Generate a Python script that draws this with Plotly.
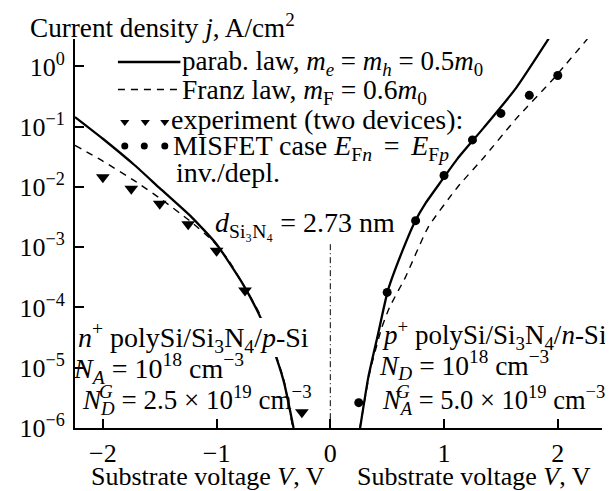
import numpy as np
import plotly.graph_objects as go

# ---------------- data ----------------
# left panel: n+ polySi/Si3N4/p-Si  (negative substrate voltage)
v_left_parab = [-2.245, -2.0, -1.72, -1.5, -1.22, -1.0, -0.766, -0.608, -0.509, -0.409, -0.323]
logj_left_parab = [-0.84, -1.20, -1.64, -2.02, -2.50, -2.95, -3.62, -4.19, -4.65, -5.23, -6.0]

v_left_franz = [-2.245, -2.01, -1.72, -1.49, -1.237, -1.037, -0.9, -0.766, -0.608, -0.509, -0.409, -0.33]
logj_left_franz = [-1.31, -1.56, -1.90, -2.20, -2.56, -2.89, -3.2, -3.62, -4.15, -4.62, -5.2, -6.0]

v_left_exp = [-2.0, -1.75, -1.5, -1.25, -1.0, -0.75, -0.25]
logj_left_exp = [-1.84, -2.03, -2.28, -2.62, -3.06, -3.72, -5.74]

# right panel: p+ polySi/Si3N4/n-Si  (positive substrate voltage)
v_right_parab = [0.262, 0.334, 0.42, 0.506, 0.634, 0.748, 0.834, 0.977, 1.119, 1.348, 1.633, 1.92]
logj_right_parab = [-6.0, -5.16, -4.44, -3.72, -3.06, -2.56, -2.28, -1.90, -1.53, -1.02, -0.36, 0.46]

v_right_franz = [0.26, 0.35, 0.45, 0.52, 0.66, 0.86, 1.12, 1.35, 1.633, 1.95, 2.26]
logj_right_franz = [-6.0, -5.05, -4.35, -4.0, -3.5, -2.67, -2.0, -1.51, -0.87, -0.23, 0.455]

v_right_misfet = [0.25, 0.5, 0.75, 1.0, 1.25, 1.5, 1.75, 2.0]
logj_right_misfet = [-5.58, -3.75, -2.56, -1.81, -1.22, -0.78, -0.48, -0.15]

# vertical separator at V = 0
v_sep = [0, 0]
logj_sep = [-2.95, -6.0]

x_ticks = [-2, -1, 0, 1, 2]
x_tick_text = ["−2", "−1", "0", "1", "2"]
y_tick_exp = [0, -1, -2, -3, -4, -5, -6]

# ---------------- layout geometry ----------------
BODY = 8                     # default page margin of the html body
W, H = 613 - BODY, 491 - BODY
ML, MR, MT, MB = 54, 11, 31, 63
PW, PH = W - ML - MR, H - MT - MB
FONT = "Liberation Serif"
FS = 28
FS_TICK = 26
SP = "\u2006"


def px(x, y):
    """position in page pixels -> paper coordinates"""
    return (x - BODY - ML) / PW, (H - MB - (y - BODY)) / PH


def j(vals):
    return [10.0 ** v for v in vals]


fig = go.Figure()

black = "black"

fig.add_trace(go.Scatter(x=v_left_parab, y=j(logj_left_parab), mode="lines",
                         line=dict(color=black, width=2.3, shape="spline", smoothing=0.5)))
fig.add_trace(go.Scatter(x=v_left_franz, y=j(logj_left_franz), mode="lines",
                         line=dict(color=black, width=1.4, dash="7px,6px", shape="spline", smoothing=0.5)))
fig.add_trace(go.Scatter(x=v_right_parab, y=j(logj_right_parab), mode="lines",
                         line=dict(color=black, width=2.3, shape="spline", smoothing=0.5)))
fig.add_trace(go.Scatter(x=v_right_franz, y=j(logj_right_franz), mode="lines",
                         line=dict(color=black, width=1.4, dash="7px,6px", shape="spline", smoothing=0.5)))
fig.add_trace(go.Scatter(x=v_sep, y=j(logj_sep), mode="lines",
                         line=dict(color=black, width=1, dash="6px,3px,1px,3px")))
fig.add_trace(go.Scatter(x=v_left_exp, y=j(logj_left_exp), mode="markers",
                         marker=dict(symbol="triangle-down", size=12, color=black)))
fig.add_trace(go.Scatter(x=v_right_misfet, y=j(logj_right_misfet), mode="markers",
                         marker=dict(symbol="circle", size=9, color=black)))

# ---------------- legend samples on an overlay axis (paper-like 0..1) ----------------
lx0, ly_solid = px(106, 62)
lx1, ly_dash = px(170, 89.5)
fig.add_trace(go.Scatter(x=[lx0, lx1], y=[ly_solid, ly_solid], mode="lines", xaxis="x2", yaxis="y2",
                         line=dict(color=black, width=2.3), cliponaxis=False))
fig.add_trace(go.Scatter(x=[lx0, lx1], y=[ly_dash, ly_dash], mode="lines", xaxis="x2", yaxis="y2",
                         line=dict(color=black, width=1.4, dash="7px,6px"), cliponaxis=False))
tri_xy = [px(x, 122) for x in (113, 134, 154)]
dot_xy = [px(x, 146) for x in (113, 133, 154)]
fig.add_trace(go.Scatter(x=[p[0] for p in tri_xy], y=[p[1] for p in tri_xy], mode="markers",
                         xaxis="x2", yaxis="y2", cliponaxis=False,
                         marker=dict(symbol="triangle-down", size=8, color=black)))
fig.add_trace(go.Scatter(x=[p[0] for p in dot_xy], y=[p[1] for p in dot_xy], mode="markers",
                         xaxis="x2", yaxis="y2", cliponaxis=False,
                         marker=dict(symbol="circle", size=7, color=black)))

# ---------------- text (placed by the centre of each text line) ----------------
annos = []


def add_text(text, x, y, bg=None, size=FS, yanchor="middle"):
    fx, fy = px(x, y)
    a = dict(text=text, x=fx, y=fy, xref="paper", yref="paper", showarrow=False,
             xanchor="center", yanchor=yanchor, align="center",
             font=dict(family=FONT, size=size, color="black"),
             borderpad=0, borderwidth=0)
    if bg:
        a["bgcolor"] = bg
    annos.append(a)


add_text("Current density <i>j</i>, A/cm<sup>2</sup>", 152, 25.5, size=27.2)
add_text("parab. law, <i>m</i><sub><i>e</i></sub> = <i>m</i><sub><i>h</i></sub> = 0.5<i>m</i><sub>0</sub>",
         326, 63, size=27)
add_text("Franz law, <i>m</i><sub>F</sub> = 0.6<i>m</i><sub>0</sub>", 297, 91, size=27.5)
add_text("experiment (two devices):", 310, 120)
add_text("MISFET case <i>E</i><sub>F<i>n</i></sub>" + SP + " =" + SP + " <i>E</i><sub>F<i>p</i></sub>", 304, 147)
add_text("inv./depl.", 219, 172)
add_text("<i>d</i><sub>Si₃N₄</sub> = 2.73 nm", 298, 224)
add_text("<i>n</i><sup>+</sup> polySi/Si<sub>3</sub>N<sub>4</sub>/<i>p</i>-Si", 183, 337, bg="white")
add_text("<i>N</i><sub><i>A</i></sub> = 10<sup>18</sup> cm<sup>−3</sup>", 148, 368)
add_text("<i>N</i><sub><i>D</i></sub> = 2.5 × 10<sup>19</sup> cm<sup>−3</sup>", 187.5, 400, size=27)
add_text("<i>G</i>", 94, 391, size=19)
add_text("<i>p</i><sup>+</sup> polySi/Si<sub>3</sub>N<sub>4</sub>/<i>n</i>-Si", 491, 335, size=27)
add_text("<i>N</i><sub><i>D</i></sub> = 10<sup>18</sup> cm<sup>−3</sup>", 461, 365, size=27.5)
add_text("<i>N</i><sub><i>A</i></sub> = 5.0 × 10<sup>19</sup> cm<sup>−3</sup>", 491, 400, size=26.5)
add_text("<i>G</i>", 398, 391, size=19)
add_text("Substrate voltage <i>V</i>, V", 198, 491, size=26, yanchor="bottom")
add_text("Substrate voltage <i>V</i>, V", 471, 491, size=26, yanchor="bottom")

fig.update_layout(
    width=W, height=H,
    margin=dict(l=ML, r=MR, t=MT, b=MB, pad=0),
    paper_bgcolor="white", plot_bgcolor="white",
    showlegend=False,
    font=dict(family=FONT, size=FS, color="black"),
    annotations=annos,
    xaxis=dict(range=[-2.245, 2.389], showgrid=False, zeroline=False,
               showline=True, linecolor="black", linewidth=2,
               ticks="inside", ticklen=9, tickwidth=2, tickcolor="black",
               tickvals=x_ticks, ticktext=x_tick_text, ticklabelstandoff=1,
               tickfont=dict(family=FONT, size=FS_TICK)),
    yaxis=dict(type="log", range=[-6, 0.455], showgrid=False, zeroline=False,
               showline=True, linecolor="black", linewidth=2,
               ticks="inside", ticklen=9, tickwidth=2, tickcolor="black",
               tickvals=[10.0 ** e for e in y_tick_exp],
               ticktext=["10<sup>%s</sup>" % (str(e).replace("-", "−")) for e in y_tick_exp],
               ticklabelstandoff=3,
               tickfont=dict(family=FONT, size=FS_TICK)),
    xaxis2=dict(range=[0, 1], overlaying="x", visible=False, fixedrange=True),
    yaxis2=dict(range=[0, 1], overlaying="y", visible=False, fixedrange=True),
)

fig.write_html("out.html")
